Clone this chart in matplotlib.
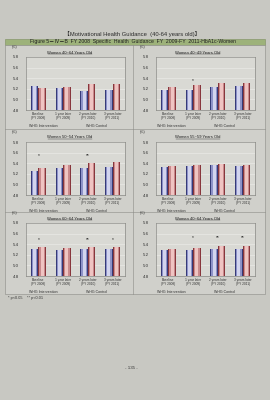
import matplotlib
matplotlib.use("Agg")
import matplotlib.pyplot as plt
from matplotlib.patches import Rectangle

plt.rcParams["font.family"] = ["Liberation Sans", "Noto Sans CJK JP", "DejaVu Sans"]

# ── data ──
groups = ["Baseline\n(FY 2008)", "1 year later\n(FY 2009)",
          "2 years later\n(FY 2010)", "3 years later\n(FY 2011)"]
titles = ["Women 40~64 Years Old", "Women 40~49 Years Old",
          "Women 50~54 Years Old", "Women 55~59 Years Old",
          "Women 60~64 Years Old", "Women 40~64 Years Old"]
intervention = [
    [5.26, 5.22, 5.16, 5.18],
    [5.18, 5.17, 5.23, 5.26],
    [5.26, 5.31, 5.31, 5.33],
    [5.33, 5.35, 5.37, 5.35],
    [5.31, 5.30, 5.31, 5.31],
    [5.29, 5.30, 5.31, 5.31],
]
control = [
    [5.21, 5.24, 5.29, 5.30],
    [5.23, 5.27, 5.31, 5.31],
    [5.31, 5.36, 5.41, 5.42],
    [5.35, 5.37, 5.39, 5.37],
    [5.34, 5.32, 5.35, 5.34],
    [5.31, 5.32, 5.36, 5.36],
]
stars = [
    ["", "", "", ""],
    ["", "*", "", ""],
    ["*", "", "**", ""],
    ["", "", "", ""],
    ["*", "", "**", "*"],
    ["", "*", "**", "**"],
]
star_y = [5.5, 5.36, 5.54, 5.5, 5.48, 5.52]
yticks = [4.8, 5.0, 5.2, 5.4, 5.6, 5.8]

W, H = 270, 400
PAGE = "#c8c8c2"
BOX = "#d0d0cb"


def frac(x0, y0, x1, y1):
    return [x0 / W, 1 - y1 / H, (x1 - x0) / W, (y1 - y0) / H]


fig = plt.figure(figsize=(2.7, 4.0), dpi=100, facecolor=PAGE)
bg = fig.add_axes([0, 0, 1, 1])
bg.set_xlim(0, W)
bg.set_ylim(H, 0)
bg.axis("off")

# header and green banner
bg.text(132, 34, "【Motivational Health Guidance  (40-64 years old)】",
        ha="center", va="center", fontsize=4.2, color="#2a2a2a")
bg.add_patch(Rectangle((5, 38.5), 260, 6.5, facecolor="#9db27a", edgecolor="#7d8f60", lw=0.4))
bg.text(133, 41.8, "Figure 5－Ⅳ－B  FY 2008  Specific  Health  Guidance  FY  2009-FY  2011-HbA1c-Women",
        ha="center", va="center", fontsize=3.7, color="#1e1e1e")

# panel boxes
bg.add_patch(Rectangle((5, 45), 260, 249, facecolor=BOX, edgecolor="#8a8a86", lw=0.4))
for yy in (129, 212):
    bg.plot([5, 265], [yy, yy], color="#8a8a86", lw=0.4)
bg.plot([133, 133], [45, 294], color="#8a8a86", lw=0.4)

rows = [(57, 110), (142, 195), (223, 276)]
cols = [(26, 125), (156, 255)]

for i in range(6):
    r, c = divmod(i, 2)
    yt, yb = rows[r]
    xl, xr = cols[c]
    ax = fig.add_axes(frac(xl, yt, xr, yb))
    ax.set_facecolor("#d9d9d4")
    x = range(len(groups))
    xi = [k - 0.15 for k in x]
    xc = [k + 0.15 for k in x]
    # cylinder look: dark outer bar, mid layer, light centre
    ax.bar(xi, intervention[i], width=0.3, color="#363a78", zorder=3)
    ax.bar(xi, intervention[i], width=0.22, color="#8e92c8", zorder=4)
    ax.bar(xi, intervention[i], width=0.12, color="#d2d4ee", zorder=5)
    ax.bar(xc, control[i], width=0.3, color="#88363c", zorder=3)
    ax.bar(xc, control[i], width=0.22, color="#c98a8c", zorder=4)
    ax.bar(xc, control[i], width=0.12, color="#efc4c2", zorder=5)
    for k, s in enumerate(stars[i]):
        if s:
            ax.text(k, star_y[i], s, ha="center", va="center", fontsize=3.5, color="#222222")
    ax.set_ylim(4.8, 5.8)
    ax.set_xlim(-0.5, 3.5)
    ax.set_yticks(yticks)
    ax.set_yticklabels([f"{v:.1f}" for v in yticks], fontsize=3.2, color="#333333")
    ax.set_xticks(list(x))
    ax.set_xticklabels(groups, fontsize=2.3, color="#333333", linespacing=1.1)
    ax.tick_params(length=0, pad=1.5)
    ax.tick_params(axis="y", pad=5)
    ax.grid(axis="y", color="#eeeeea", lw=0.4, zorder=0)
    for sp in ax.spines.values():
        sp.set_color("#777773")
        sp.set_linewidth(0.4)

    x0 = 5 if c == 0 else 133
    tx = x0 + 65
    bg.text(x0 + 7, yt - 10, "(%)", ha="left", va="center", fontsize=2.6, color="#333333")
    bg.text(tx, yt - 4.5, titles[i], ha="center", va="center", fontsize=3.0, color="#222222")
    bg.plot([tx - 22, tx + 22], [yt - 2.6, yt - 2.6], color="#333333", lw=0.3)
    bg.text(x0 + 38, yb + 16, "WHG Intervention", ha="center", va="center", fontsize=2.6, color="#333333")
    bg.text(x0 + 92, yb + 16, "WHG Control", ha="center", va="center", fontsize=2.6, color="#333333")

bg.text(8, 298, "* p<0.05    ** p<0.01", ha="left", va="center", fontsize=2.8, color="#333333")
bg.text(131, 368, "- 135 -", ha="center", va="center", fontsize=3.2, color="#333333")

fig.savefig("out.png", dpi=100, facecolor=PAGE)
